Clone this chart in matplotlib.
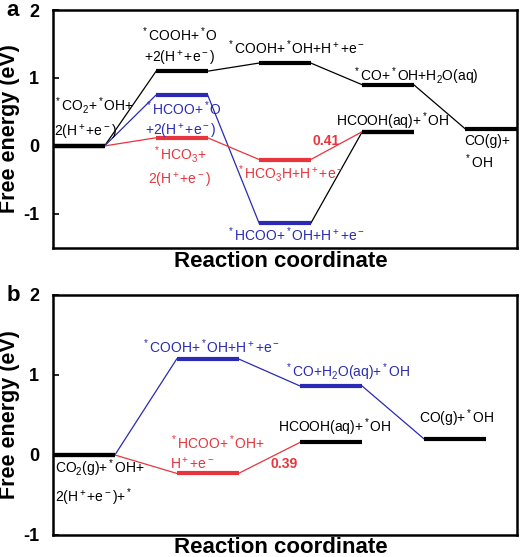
import matplotlib
matplotlib.use('Agg')
import matplotlib.pyplot as plt

plt.rcParams['font.family'] = ['Liberation Sans', 'DejaVu Sans']
plt.rcParams['mathtext.fontset'] = 'custom'
plt.rcParams['mathtext.rm'] = 'Liberation Sans'
plt.rcParams['mathtext.it'] = 'Liberation Sans'
plt.rcParams['mathtext.bf'] = 'Liberation Sans:bold'

BLACK = 'black'
BLUE = '#2a2ab4'
RED = '#e8343c'

# Panel a: energies (eV) along each pathway, by step index
a_black_steps = [0, 1, 2, 3, 4]
a_black = [0.0, 1.10, 1.22, 0.90, 0.25]
a_blue_steps = [0, 1, 2, 3]
a_blue = [0.0, 0.75, -1.14, 0.21]
a_red_steps = [0, 1, 2, 3]
a_red = [0.0, 0.12, -0.20, 0.21]

# Panel b
b_blue_steps = [0, 1, 2, 3]
b_blue = [0.0, 1.20, 0.86, 0.20]
b_red_steps = [0, 1, 2]
b_red = [0.0, -0.23, 0.16]

yticks = [-1, 0, 1, 2]


def draw_path(ax, steps, energies, level_colors, link_colors, pitch=2.0, width=1.0):
    for i, (s, e) in enumerate(zip(steps, energies)):
        x0 = s * pitch
        ax.plot([x0, x0 + width], [e, e], color=level_colors[i], lw=3, solid_capstyle='butt', zorder=3)
        if i > 0:
            xp = steps[i - 1] * pitch + width
            ax.plot([xp, x0], [energies[i - 1], e], color=link_colors[i - 1], lw=0.9, zorder=2)


def style_axes(ax, ylim, xlim):
    ax.set_xlim(*xlim)
    ax.set_ylim(*ylim)
    ax.set_xticks([])
    ax.set_yticks(yticks)
    ax.set_yticklabels([str(t) for t in yticks], fontsize=13, fontweight='bold')
    ax.tick_params(axis='y', direction='in', length=4, width=1.2, pad=10)
    for sp in ax.spines.values():
        sp.set_linewidth(1.8)
    ax.set_ylabel('Free energy (eV)', fontsize=15.5, fontweight='bold')
    ax.yaxis.set_label_coords(-0.072, 0.5)
    ax.set_xlabel('Reaction coordinate', fontsize=16, fontweight='bold')


fig = plt.figure(figsize=(5.2, 5.57), dpi=100)

# ---- panel a ----
ax1 = fig.add_axes([0.102, 0.555, 0.892, 0.427])
draw_path(ax1, a_black_steps, a_black, [BLACK] * 5, [BLACK] * 4)
draw_path(ax1, a_blue_steps, a_blue, [BLACK, BLUE, BLUE, BLACK], [BLUE, BLUE, BLACK])
draw_path(ax1, a_red_steps, a_red, [BLACK, RED, RED, BLACK], [RED, RED, RED])
style_axes(ax1, (-1.5, 2), (0, 9))
ax1.xaxis.set_label_coords(0.49, -0.015)

fs = 10
ax1.text(0.02, 0.40, '$^*$CO$_2$+$^*$OH+\n2(H$^+$+e$^-$)', fontsize=fs, color=BLACK, ha='left', va='center', linespacing=1.5)
ax1.text(2.46, 1.46, '$^*$COOH+$^*$O\n+2(H$^+$+e$^-$)', fontsize=fs, color=BLACK, ha='center', va='center', linespacing=1.4)
ax1.text(4.71, 1.44, '$^*$COOH+$^*$OH+H$^+$+e$^-$', fontsize=fs, color=BLACK, ha='center', va='center')
ax1.text(7.03, 1.03, '$^*$CO+$^*$OH+H$_2$O(aq)', fontsize=fs, color=BLACK, ha='center', va='center')
ax1.text(6.59, 0.37, 'HCOOH(aq)+$^*$OH', fontsize=fs, color=BLACK, ha='center', va='center')
ax1.text(7.98, -0.10, 'CO(g)+\n$^*$OH', fontsize=fs, color=BLACK, ha='left', va='center', linespacing=1.3)
ax1.text(1.78, 0.38, '$^*$HCOO+$^*$O\n+2(H$^+$+e$^-$)', fontsize=fs, color=BLUE, ha='left', va='center', linespacing=1.3)
ax1.text(2.46, -0.31, '$^*$HCO$_3$+\n2(H$^+$+e$^-$)', fontsize=fs, color=RED, ha='center', va='center', linespacing=1.5)
ax1.text(4.6, -0.40, '$^*$HCO$_3$H+H$^+$+e$^-$', fontsize=fs, color=RED, ha='center', va='center')
ax1.text(5.29, 0.07, '0.41', fontsize=fs, color=RED, ha='center', va='center', fontweight='bold')
ax1.text(4.71, -1.31, '$^*$HCOO+$^*$OH+H$^+$+e$^-$', fontsize=fs, color=BLUE, ha='center', va='center')

# ---- panel b ----
ax2 = fig.add_axes([0.102, 0.0395, 0.892, 0.431])
draw_path(ax2, b_blue_steps, b_blue, [BLACK, BLUE, BLUE, BLACK], [BLUE, BLUE, BLUE])
draw_path(ax2, b_red_steps, b_red, [BLACK, RED, BLACK], [RED, RED])
style_axes(ax2, (-1, 2), (0, 7.5))
ax2.xaxis.set_label_coords(0.49, -0.008)

ax2.text(0.03, -0.35, 'CO$_2$(g)+$^*$OH+\n2(H$^+$+e$^-$)+$^*$', fontsize=fs, color=BLACK, ha='left', va='center', linespacing=1.5)
ax2.text(2.55, 1.35, '$^*$COOH+$^*$OH+H$^+$+e$^-$', fontsize=fs, color=BLUE, ha='center', va='center')
ax2.text(4.77, 1.03, '$^*$CO+H$_2$O(aq)+$^*$OH', fontsize=fs, color=BLUE, ha='center', va='center')
ax2.text(4.56, 0.35, 'HCOOH(aq)+$^*$OH', fontsize=fs, color=BLACK, ha='center', va='center')
ax2.text(6.52, 0.46, 'CO(g)+$^*$OH', fontsize=fs, color=BLACK, ha='center', va='center')
ax2.text(1.89, 0.03, '$^*$HCOO+$^*$OH+\nH$^+$+e$^-$', fontsize=fs, color=RED, ha='left', va='center', linespacing=1.3)
ax2.text(3.73, -0.11, '0.39', fontsize=fs, color=RED, ha='center', va='center', fontweight='bold')

fig.text(0.012, 0.982, 'a', fontsize=16, fontweight='bold', ha='left', va='center')
fig.text(0.012, 0.470, 'b', fontsize=16, fontweight='bold', ha='left', va='center')

fig.savefig('out.png', dpi=100)
